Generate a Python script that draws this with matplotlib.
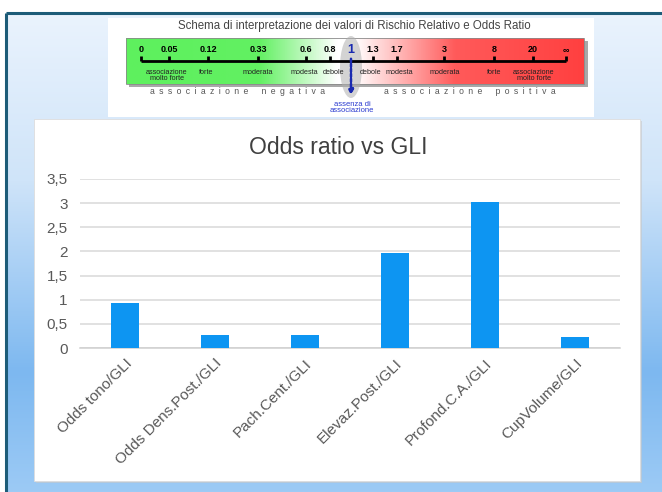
import numpy as np
import matplotlib
matplotlib.use("Agg")
import matplotlib.pyplot as plt
from matplotlib.colors import LinearSegmentedColormap
from matplotlib.patches import Rectangle, Ellipse, FancyArrowPatch

plt.rcParams["font.family"] = ["Liberation Sans", "DejaVu Sans"]

# ---------------- data ----------------
categories = ["Odds tono/GLI", "Odds Dens.Post./GLI", "Pach.Cent./GLI",
              "Elevaz.Post./GLI", "Profond.C.A./GLI", "CupVolume/GLI"]
odds_values = [0.93, 0.27, 0.27, 1.97, 3.02, 0.23]
y_ticks = [0, 0.5, 1, 1.5, 2, 2.5, 3, 3.5]
y_tick_labels = ["0", "0,5", "1", "1,5", "2", "2,5", "3", "3,5"]
chart_title = "Odds ratio vs GLI"

scheme_title = "Schema di interpretazione dei valori di Rischio Relativo e Odds Ratio"
scale_labels = ["0", "0.05", "0.12", "0.33", "0.6", "0.8", "1", "1.3", "1.7", "3", "8", "20", "∞"]
strength_left = ["associazione\nmolto forte", "forte", "moderata", "modesta", "debole"]
strength_right = ["debole", "modesta", "moderata", "forte", "associazione\nmolto forte"]
side_left = "associazione negativa"
side_right = "associazione positiva"
absence_label = "assenza di\nassociazione"

# ---------------- layout (pixels) ----------------
W, H = 662, 492
scale_px = [141, 169, 208, 258, 306, 330, 351, 373, 397, 444, 494, 533, 566]
left_lbl_px = [167, 206, 258, 304, 334]
right_lbl_px = [371, 399, 445, 494, 534]


def spaced(s):
    sp = "\u2002"
    return (sp * 3).join(sp.join(w) for w in s.split(" "))


fig = plt.figure(figsize=(W / 100, H / 100), dpi=100)
fig.patch.set_facecolor("white")
ov = fig.add_axes([0, 0, 1, 1])
ov.set_xlim(0, W)
ov.set_ylim(H, 0)
ov.axis("off")

# background gradient inside frame
bg_cmap = LinearSegmentedColormap.from_list(
    "bg", [(0, "#eaf3fd"), (0.35, "#cfe4f9"), (0.75, "#7db8f0"), (1.0, "#9ccaf5")])
grad = np.linspace(0, 1, 256).reshape(-1, 1)
ov.imshow(grad, cmap=bg_cmap, extent=(6, W, H, 13), aspect="auto", zorder=0)
ov.plot([6, W], [13, 13], color="#1d5c78", lw=2.2, zorder=1, solid_capstyle="butt")
ov.plot([6, 6], [13, H], color="#1d5c78", lw=2.2, zorder=1, solid_capstyle="butt")

# ---------------- schematic ----------------
ov.add_patch(Rectangle((108, 18), 486, 99, facecolor="white", edgecolor="none", zorder=1))
ov.text(354, 26, scheme_title, ha="center", va="center", fontsize=8.3,
        color="#444444", zorder=3)
ov.add_patch(Rectangle((129, 41), 459, 46, facecolor="#a8a8a8", edgecolor="none", zorder=1.5))
bar_cmap = LinearSegmentedColormap.from_list(
    "scheme", [(0, "#5ef05e"), (0.29, "#62f062"), (0.46, "#ffffff"),
               (0.50, "#ffffff"), (0.58, "#ffc4c4"), (0.72, "#ff5a5a"), (1.0, "#ff4040")])
hgrad = np.linspace(0, 1, 256).reshape(1, -1)
ov.imshow(hgrad, cmap=bar_cmap, extent=(126, 584, 84, 38), aspect="auto", zorder=2)
ov.add_patch(Rectangle((126, 38), 458, 46, facecolor="none", edgecolor="#8a8a8a", lw=0.6, zorder=2.1))
ov.add_patch(Ellipse((351, 67), 22, 62, facecolor="#b0b0b0", alpha=0.55, edgecolor="none", zorder=2.2))

ov.plot([scale_px[0], scale_px[-1]], [61, 61], color="black", lw=2, zorder=3,
        solid_capstyle="butt")
for lab, xp in zip(scale_labels, scale_px):
    if lab == "1":
        ov.text(xp, 50, lab, ha="center", va="center", fontsize=9,
                fontweight="bold", color="#1a2ab0", zorder=4)
    else:
        ov.text(xp, 50, lab, ha="center", va="center", fontsize=6.5,
                fontweight="bold", color="black", zorder=4)
        ov.plot([xp, xp], [56, 61], color="black", lw=2, zorder=3, solid_capstyle="butt")
for lab, xp in zip(strength_left, left_lbl_px):
    ov.text(xp, 68.5, lab, ha="center", va="top", fontsize=5.2, color="#222222",
            linespacing=0.95, zorder=4)
for lab, xp in zip(strength_right, right_lbl_px):
    ov.text(xp, 68.5, lab, ha="center", va="top", fontsize=5.2, color="#222222",
            linespacing=0.95, zorder=4)
ov.text(238, 92, spaced(side_left), ha="center", va="center", fontsize=6.2,
        color="#555555", zorder=4)
ov.text(470, 92, spaced(side_right), ha="center", va="center", fontsize=6.2,
        color="#555555", zorder=4)
ov.add_patch(FancyArrowPatch((351, 56), (351, 98), arrowstyle="-|>", mutation_scale=7,
                             color="#1a2ab0", lw=1.8, linestyle=(0, (1.2, 0.8)), zorder=4))
ov.text(352, 100.5, absence_label, ha="center", va="top", fontsize=5.5,
        color="#2a3ad0", linespacing=0.95, zorder=4)

# ---------------- chart panel ----------------
ov.add_patch(Rectangle((36, 121), 606, 362, facecolor="#c8c8c8", edgecolor="none", zorder=1, alpha=0.6))
ov.add_patch(Rectangle((34, 119), 606, 362, facecolor="white", edgecolor="#dddddd", lw=0.6, zorder=1.2))
ov.text(338, 147, chart_title, ha="center", va="center", fontsize=16.5, color="#404040", zorder=3)

x0, x1 = 80, 620
y_top, y_zero = 179, 348
ax = fig.add_axes([x0 / W, 1 - y_zero / H, (x1 - x0) / W, (y_zero - y_top) / H])
ax.set_facecolor("none")
xpos = np.arange(len(categories))
ax.bar(xpos, odds_values, width=0.31, color="#0d95f2", zorder=3)
ax.set_xlim(-0.5, len(categories) - 0.5)
ax.set_ylim(0, 3.5)
ax.set_yticks(y_ticks)
ax.set_yticklabels(y_tick_labels, fontsize=11, color="#595959")
ax.set_xticks(xpos)
ax.set_xticklabels(categories, rotation=45, ha="right", rotation_mode="anchor",
                   fontsize=11, color="#595959")
ax.tick_params(axis="both", length=0)
ax.tick_params(axis="y", pad=9)
ax.tick_params(axis="x", pad=6)
ax.grid(axis="y", color="#d9d9d9", lw=1.1, zorder=0)
for s in ["top", "right", "left"]:
    ax.spines[s].set_visible(False)
ax.spines["bottom"].set_color("#d0d0d0")
ax.spines["bottom"].set_linewidth(1.1)

fig.savefig("out.png", dpi=100)
